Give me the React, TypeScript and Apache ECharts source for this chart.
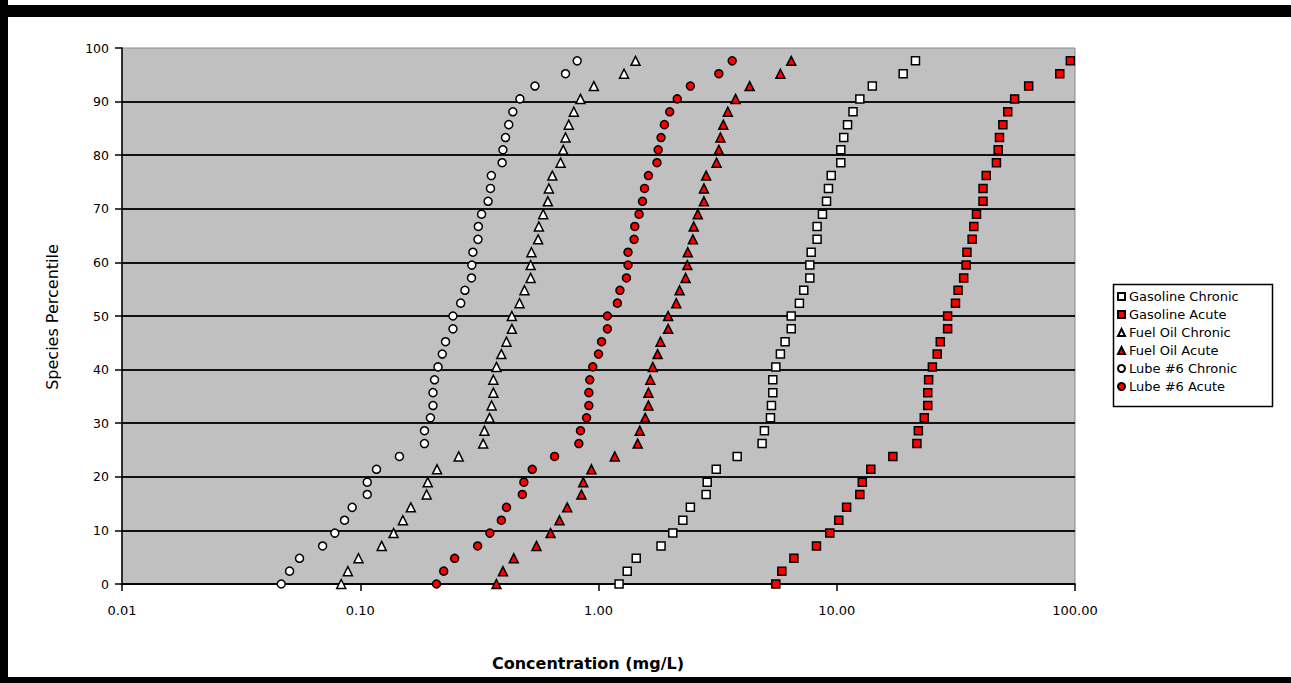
import React, { useEffect, useRef } from "react";
import * as echarts from "echarts";

// Species percentile (y) for each ranked species
const percentiles = [
  0, 2.4, 4.8, 7.1, 9.5, 11.9, 14.3, 16.7, 19.0, 21.4, 23.8, 26.2, 28.6, 31.0,
  33.3, 35.7, 38.1, 40.5, 42.9, 45.2, 47.6, 50.0, 52.4, 54.8, 57.1, 59.5, 61.9,
  64.3, 66.7, 69.0, 71.4, 73.8, 76.2, 78.6, 81.0, 83.3, 85.7, 88.1, 90.5, 92.9,
  95.2, 97.6,
];

// Concentrations (mg/L)
const gasolineChronic = [
  1.22, 1.32, 1.44, 1.83, 2.05, 2.26, 2.43, 2.83, 2.86, 3.12, 3.82, 4.86, 4.97,
  5.27, 5.32, 5.39, 5.39, 5.55, 5.8, 6.07, 6.44, 6.44, 6.97, 7.27, 7.71, 7.71,
  7.81, 8.27, 8.27, 8.71, 9.06, 9.23, 9.48, 10.4, 10.4, 10.7, 11.1, 11.7, 12.5,
  14.1, 19.0, 21.4,
];
const gasolineAcute = [
  5.55, 5.88, 6.61, 8.22, 9.35, 10.2, 11.0, 12.5, 12.8, 13.9, 17.2, 21.7, 22.0,
  23.3, 24.1, 24.1, 24.3, 25.2, 26.4, 27.2, 29.2, 29.2, 31.5, 32.3, 34.1, 34.9,
  35.2, 37.0, 37.6, 38.6, 41.1, 41.1, 42.4, 46.8, 47.6, 48.2, 49.8, 52.2, 55.8,
  63.9, 86.3, 95.6,
];
const fuelOilChronic = [
  0.0832, 0.0887, 0.0983, 0.123, 0.138, 0.151, 0.163, 0.19, 0.192, 0.21, 0.259,
  0.328, 0.332, 0.349, 0.356, 0.362, 0.362, 0.373, 0.391, 0.411, 0.433, 0.433,
  0.466, 0.489, 0.519, 0.519, 0.523, 0.558, 0.562, 0.586, 0.613, 0.619, 0.64,
  0.693, 0.711, 0.727, 0.75, 0.788, 0.84, 0.956, 1.28, 1.43,
];
const fuelOilAcute = [
  0.373, 0.397, 0.441, 0.549, 0.629, 0.686, 0.739, 0.848, 0.863, 0.934, 1.17,
  1.46, 1.49, 1.57, 1.62, 1.62, 1.65, 1.69, 1.77, 1.82, 1.96, 1.96, 2.12, 2.19,
  2.32, 2.36, 2.37, 2.49, 2.51, 2.61, 2.77, 2.77, 2.83, 3.13, 3.2, 3.25, 3.34,
  3.49, 3.76, 4.31, 5.8, 6.44,
];
const lube6Chronic = [
  0.0466, 0.0505, 0.0556, 0.0695, 0.0782, 0.0859, 0.0925, 0.107, 0.107, 0.117,
  0.146, 0.186, 0.186, 0.197, 0.202, 0.202, 0.205, 0.212, 0.221, 0.228, 0.245,
  0.245, 0.264, 0.275, 0.293, 0.294, 0.297, 0.312, 0.313, 0.323, 0.344, 0.352,
  0.355, 0.394, 0.397, 0.407, 0.42, 0.437, 0.468, 0.541, 0.727, 0.814,
];
const lube6Acute = [
  0.209, 0.224, 0.249, 0.311, 0.35, 0.391, 0.411, 0.479, 0.486, 0.527, 0.654,
  0.827, 0.84, 0.891, 0.911, 0.911, 0.919, 0.946, 1.0, 1.03, 1.09, 1.09, 1.2,
  1.23, 1.31, 1.33, 1.33, 1.41, 1.42, 1.48, 1.53, 1.56, 1.62, 1.76, 1.78, 1.83,
  1.89, 1.99, 2.14, 2.43, 3.2, 3.64,
];

const seriesNames = [
  "Gasoline Chronic",
  "Gasoline Acute",
  "Fuel Oil Chronic",
  "Fuel Oil Acute",
  "Lube #6 Chronic",
  "Lube #6 Acute",
];
const xTickValues = [0.01, 0.1, 1, 10, 100];
const xTickLabels = ["0.01", "0.10", "1.00", "10.00", "100.00"];
const xTitle = "Concentration (mg/L)";
const yTitle = "Species Percentile";

const FONT = "DejaVu Sans";

function pairs(xs: number[]) {
  return xs.map((x, i) => [x, percentiles[i]]);
}

export default function App() {
  const ref = useRef<HTMLDivElement>(null);

  useEffect(() => {
    document.body.style.margin = "0";
    if (!ref.current) return;
    const chart = echarts.init(ref.current, undefined, { renderer: "svg" });

    const mk = (
      name: string,
      data: number[],
      symbol: string,
      fill: string,
      size: number
    ) => ({
      name,
      type: "scatter",
      data: pairs(data),
      symbol,
      symbolSize: size,
      z: 3,
      itemStyle: { color: fill, borderColor: "#000", borderWidth: 1.5, opacity: 1 },
      emphasis: { disabled: true },
    });

    chart.setOption({
      animation: false,
      backgroundColor: "#ffffff",
      textStyle: { fontFamily: FONT },
      grid: {
        left: 122,
        right: 216,
        top: 48,
        bottom: 99,
        show: true,
        backgroundColor: "#c0c0c0",
        borderColor: "#8a8a8a",
        borderWidth: 1,
      },
      xAxis: {
        type: "log",
        logBase: 10,
        min: 0.01,
        max: 100,
        axisLine: { show: true, lineStyle: { color: "#000", width: 1.5 } },
        axisTick: { show: true, inside: false, length: 7, lineStyle: { color: "#000", width: 1.5 } },
        minorTick: { show: false },
        splitLine: { show: false },
        axisLabel: {
          margin: 20,
          color: "#000",
          fontFamily: FONT,
          fontSize: 13,
          formatter: (v: number) => {
            const k = xTickValues.findIndex((t) => Math.abs(Math.log10(t) - Math.log10(v)) < 1e-6);
            return k >= 0 ? xTickLabels[k] : "";
          },
        },
      },
      yAxis: {
        type: "value",
        min: 0,
        max: 100,
        interval: 10,
        axisLine: { show: true, lineStyle: { color: "#000", width: 1.5 } },
        axisTick: { show: true, inside: false, length: 7, lineStyle: { color: "#000", width: 1.5 } },
        splitLine: {
          show: true,
          showMinLine: true,
          showMaxLine: false,
          lineStyle: { color: "#111", width: 2 },
        },
        axisLabel: { margin: 13, color: "#000", fontFamily: FONT, fontSize: 12.5 },
      },
      legend: {
        orient: "vertical",
        left: 1117,
        top: 290,
        itemWidth: 7,
        itemHeight: 7,
        itemGap: 5,
        padding: 0,
        selectedMode: false,
        textStyle: { color: "#000", fontFamily: FONT, fontSize: 13, lineHeight: 13, padding: [0, 0, 0, -1] },
        data: seriesNames,
      },
      graphic: [
        // outer frame
        { type: "rect", shape: { x: 0, y: 5, width: 1291, height: 12 }, style: { fill: "#000" }, silent: true },
        { type: "rect", shape: { x: 0, y: 0, width: 8, height: 683 }, style: { fill: "#000" }, silent: true },
        { type: "rect", shape: { x: 0, y: 677, width: 1291, height: 6 }, style: { fill: "#000" }, silent: true },
        // legend box
        {
          type: "rect",
          shape: { x: 1113.5, y: 284.5, width: 159, height: 122 },
          style: { fill: "none", stroke: "#000", lineWidth: 1.5 },
          z: 0,
          silent: true,
        },
        {
          type: "text",
          x: 588,
          y: 663,
          style: {
            text: xTitle,
            fontFamily: FONT,
            fontSize: 16,
            fontWeight: "bold",
            fill: "#000",
            textAlign: "center",
            textVerticalAlign: "middle",
          },
        },
        {
          type: "text",
          x: 52,
          y: 317,
          rotation: Math.PI / 2,
          style: {
            text: yTitle,
            fontFamily: FONT,
            fontSize: 16,
            fill: "#000",
            textAlign: "center",
            textVerticalAlign: "middle",
          },
        },
      ],
      series: [
        mk(seriesNames[0], gasolineChronic, "rect", "#ffffff", 8),
        mk(seriesNames[1], gasolineAcute, "rect", "#ff0000", 8),
        mk(seriesNames[2], fuelOilChronic, "triangle", "#ffffff", 9),
        mk(seriesNames[3], fuelOilAcute, "triangle", "#ff0000", 9),
        mk(seriesNames[4], lube6Chronic, "circle", "#ffffff", 8),
        mk(seriesNames[5], lube6Acute, "circle", "#ff0000", 8),
      ],
    });

    return () => chart.dispose();
  }, []);

  return <div ref={ref} style={{ width: 1291, height: 683 }} />;
}
